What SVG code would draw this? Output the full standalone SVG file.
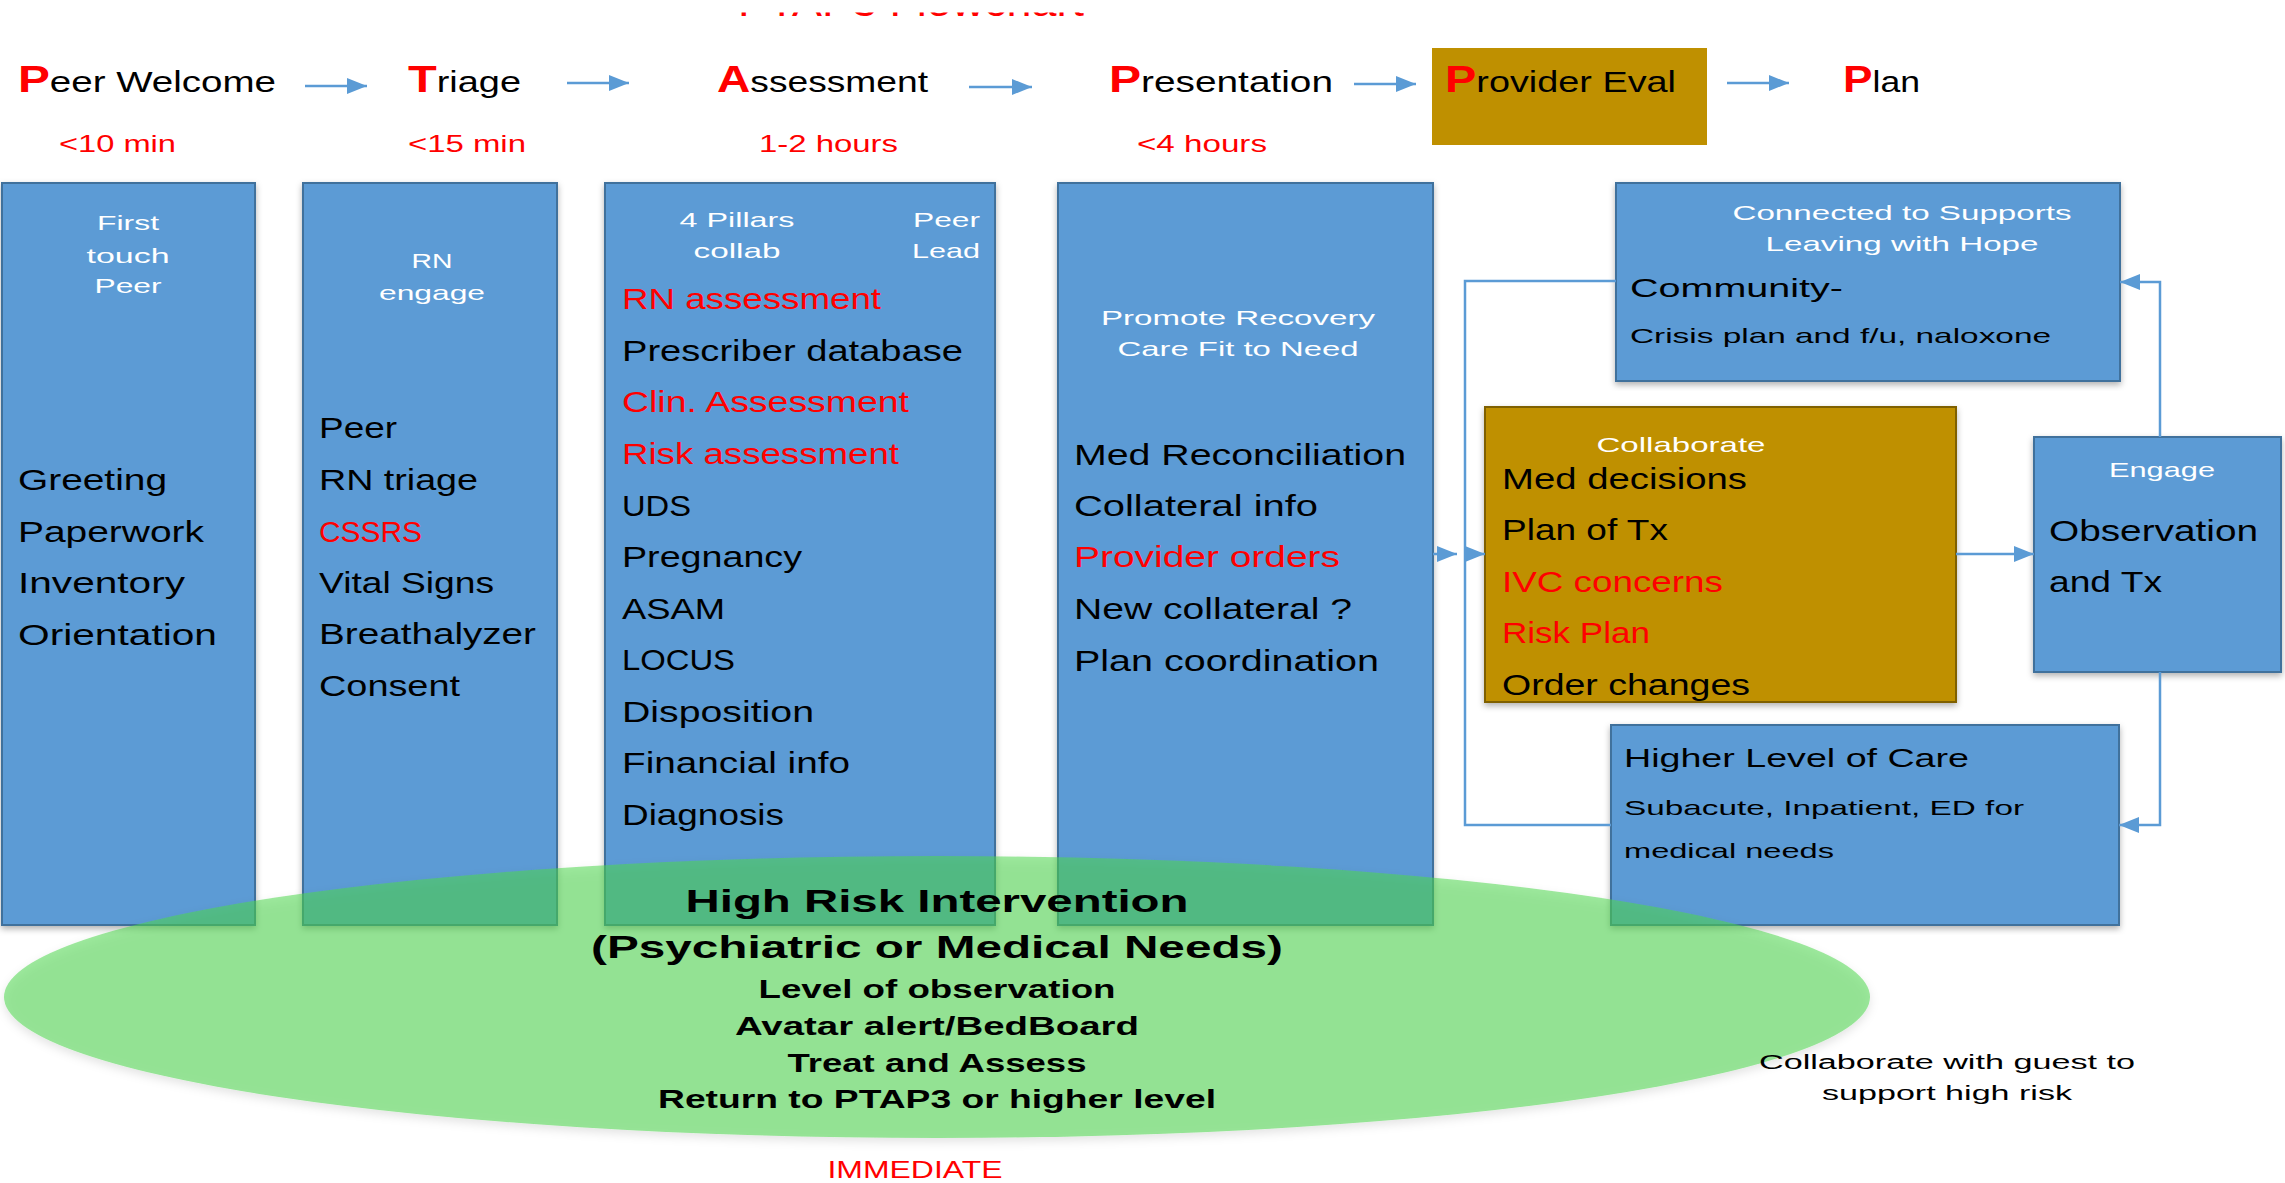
<svg xmlns="http://www.w3.org/2000/svg" width="2285" height="1183" viewBox="0 0 2285 1183">
<style>
text{font-family:"Liberation Sans",Arial,sans-serif;fill:#000}
.box{fill:#5b9bd5;stroke:#41719c;stroke-width:2;filter:url(#sh)}
.gold{fill:#bf9000}
.goldb{fill:#bf9000;stroke:#7f6000;stroke-width:2;filter:url(#sh)}
.hd{font-size:29px}
.P{font-size:36px;font-weight:bold;fill:#f00}
.tm{font-size:24px;fill:#f00}
.w{font-size:21px;fill:#fff}
.i{font-size:29px}
.r{fill:#f00}
.conn{stroke:#5b9bd5;stroke-width:2.5;fill:none}
.arr{marker-end:url(#ah)}
.eb{font-weight:bold;font-size:31px}
.es{font-weight:bold;font-size:25px}
.sm{font-size:21px}
</style>
<defs>
<marker id="ah" markerUnits="userSpaceOnUse" markerWidth="22" markerHeight="18" refX="20" refY="8" orient="auto"><path d="M0,0 L20,8 L0,16 z" fill="#5b9bd5"/></marker>
<filter id="sh" x="-5%" y="-5%" width="110%" height="110%"><feDropShadow dx="0" dy="3" stdDeviation="3" flood-color="#000" flood-opacity="0.3"/></filter>
<filter id="esh" x="-5%" y="-10%" width="110%" height="125%"><feDropShadow dx="0" dy="4" stdDeviation="5" flood-color="#000" flood-opacity="0.2"/></filter>
<clipPath id="tclip"><rect x="0" y="12.5" width="2285" height="4"/></clipPath>
</defs>
<rect width="2285" height="1183" fill="#fff"/>

<g id="title" clip-path="url(#tclip)">
<text x="738" y="15.5" font-size="40" textLength="346" lengthAdjust="spacingAndGlyphs" style="fill:#f00">PTAP3 Flowchart</text>
</g>

<g id="header">
<text class="hd" x="18" y="92" textLength="258" lengthAdjust="spacingAndGlyphs"><tspan class="P">P</tspan>eer Welcome</text>
<text class="hd" x="408" y="92" textLength="113" lengthAdjust="spacingAndGlyphs"><tspan class="P">T</tspan>riage</text>
<text class="hd" x="717" y="92" textLength="211" lengthAdjust="spacingAndGlyphs"><tspan class="P">A</tspan>ssessment</text>
<text class="hd" x="1109" y="92" textLength="224" lengthAdjust="spacingAndGlyphs"><tspan class="P">P</tspan>resentation</text>
<text class="hd" x="1843" y="92" textLength="77" lengthAdjust="spacingAndGlyphs"><tspan class="P">P</tspan>lan</text>
<text class="tm" x="59" y="152" textLength="117" lengthAdjust="spacingAndGlyphs">&lt;10 min</text>
<text class="tm" x="408" y="152" textLength="118" lengthAdjust="spacingAndGlyphs">&lt;15 min</text>
<text class="tm" x="759" y="152" textLength="139" lengthAdjust="spacingAndGlyphs">1-2 hours</text>
<text class="tm" x="1137" y="152" textLength="130" lengthAdjust="spacingAndGlyphs">&lt;4 hours</text>
</g>

<g id="provider-eval">
<rect class="gold" x="1432" y="48" width="275" height="97"/>
<text class="hd" x="1445" y="92" textLength="231" lengthAdjust="spacingAndGlyphs"><tspan class="P">P</tspan>rovider Eval</text>
</g>

<g id="peer-welcome">
<rect class="box" x="2" y="183" width="253" height="742"/>
<text class="w" x="128" y="230" text-anchor="middle" textLength="62" lengthAdjust="spacingAndGlyphs">First</text>
<text class="w" x="128" y="263" text-anchor="middle" textLength="83" lengthAdjust="spacingAndGlyphs">touch</text>
<text class="w" x="128" y="293" text-anchor="middle" textLength="67" lengthAdjust="spacingAndGlyphs">Peer</text>
<text class="i" x="18" y="490" textLength="149" lengthAdjust="spacingAndGlyphs">Greeting</text>
<text class="i" x="18" y="542" textLength="186" lengthAdjust="spacingAndGlyphs">Paperwork</text>
<text class="i" x="18" y="593" textLength="167" lengthAdjust="spacingAndGlyphs">Inventory</text>
<text class="i" x="18" y="645" textLength="199" lengthAdjust="spacingAndGlyphs">Orientation</text>
</g>

<g id="triage">
<rect class="box" x="303" y="183" width="254" height="742"/>
<text class="w" x="432" y="268" text-anchor="middle" textLength="41" lengthAdjust="spacingAndGlyphs">RN</text>
<text class="w" x="432" y="300" text-anchor="middle" textLength="106" lengthAdjust="spacingAndGlyphs">engage</text>
<text class="i" x="319" y="438" textLength="78" lengthAdjust="spacingAndGlyphs">Peer</text>
<text class="i" x="319" y="490" textLength="159" lengthAdjust="spacingAndGlyphs">RN triage</text>
<text class="i r" x="319" y="542" textLength="103" lengthAdjust="spacingAndGlyphs">CSSRS</text>
<text class="i" x="319" y="593" textLength="175" lengthAdjust="spacingAndGlyphs">Vital Signs</text>
<text class="i" x="319" y="644" textLength="217" lengthAdjust="spacingAndGlyphs">Breathalyzer</text>
<text class="i" x="319" y="696" textLength="141" lengthAdjust="spacingAndGlyphs">Consent</text>
</g>

<g id="assessment">
<rect class="box" x="605" y="183" width="390" height="742"/>
<text class="w" x="737" y="227" text-anchor="middle" textLength="115" lengthAdjust="spacingAndGlyphs">4 Pillars</text>
<text class="w" x="737" y="258" text-anchor="middle" textLength="87" lengthAdjust="spacingAndGlyphs">collab</text>
<text class="w" x="980" y="227" text-anchor="end" textLength="67" lengthAdjust="spacingAndGlyphs">Peer</text>
<text class="w" x="980" y="258" text-anchor="end" textLength="68" lengthAdjust="spacingAndGlyphs">Lead</text>
<text class="i r" x="622" y="309" textLength="259" lengthAdjust="spacingAndGlyphs">RN assessment</text>
<text class="i" x="622" y="361" textLength="341" lengthAdjust="spacingAndGlyphs">Prescriber database</text>
<text class="i r" x="622" y="412" textLength="287" lengthAdjust="spacingAndGlyphs">Clin. Assessment</text>
<text class="i r" x="622" y="464" textLength="277" lengthAdjust="spacingAndGlyphs">Risk assessment</text>
<text class="i" x="622" y="516" textLength="69" lengthAdjust="spacingAndGlyphs">UDS</text>
<text class="i" x="622" y="567" textLength="180" lengthAdjust="spacingAndGlyphs">Pregnancy</text>
<text class="i" x="622" y="619" textLength="103" lengthAdjust="spacingAndGlyphs">ASAM</text>
<text class="i" x="622" y="670" textLength="113" lengthAdjust="spacingAndGlyphs">LOCUS</text>
<text class="i" x="622" y="722" textLength="192" lengthAdjust="spacingAndGlyphs">Disposition</text>
<text class="i" x="622" y="773" textLength="228" lengthAdjust="spacingAndGlyphs">Financial info</text>
<text class="i" x="622" y="825" textLength="162" lengthAdjust="spacingAndGlyphs">Diagnosis</text>
</g>

<g id="presentation">
<rect class="box" x="1058" y="183" width="375" height="742"/>
<text class="w" x="1238" y="325" text-anchor="middle" textLength="274" lengthAdjust="spacingAndGlyphs">Promote Recovery</text>
<text class="w" x="1238" y="356" text-anchor="middle" textLength="241" lengthAdjust="spacingAndGlyphs">Care Fit to Need</text>
<text class="i" x="1074" y="465" textLength="332" lengthAdjust="spacingAndGlyphs">Med Reconciliation</text>
<text class="i" x="1074" y="516" textLength="244" lengthAdjust="spacingAndGlyphs">Collateral info</text>
<text class="i r" x="1074" y="567" textLength="266" lengthAdjust="spacingAndGlyphs">Provider orders</text>
<text class="i" x="1074" y="619" textLength="278" lengthAdjust="spacingAndGlyphs">New collateral ?</text>
<text class="i" x="1074" y="671" textLength="305" lengthAdjust="spacingAndGlyphs">Plan coordination</text>
</g>

<g id="community">
<rect class="box" x="1616" y="183" width="504" height="198"/>
<text class="w" x="1902" y="220" text-anchor="middle" textLength="339" lengthAdjust="spacingAndGlyphs">Connected to Supports</text>
<text class="w" x="1902" y="251" text-anchor="middle" textLength="273" lengthAdjust="spacingAndGlyphs">Leaving with Hope</text>
<text x="1630" y="297" font-size="26" textLength="213" lengthAdjust="spacingAndGlyphs">Community-</text>
<text class="sm" x="1630" y="343" textLength="421" lengthAdjust="spacingAndGlyphs">Crisis plan and f/u, naloxone</text>
</g>

<g id="collaborate">
<rect class="goldb" x="1485" y="407" width="471" height="295"/>
<text class="w" x="1681" y="452" text-anchor="middle" textLength="169" lengthAdjust="spacingAndGlyphs">Collaborate</text>
<text class="i" x="1502" y="489" textLength="245" lengthAdjust="spacingAndGlyphs">Med decisions</text>
<text class="i" x="1502" y="540" textLength="166" lengthAdjust="spacingAndGlyphs">Plan of Tx</text>
<text class="i r" x="1502" y="592" textLength="221" lengthAdjust="spacingAndGlyphs">IVC concerns</text>
<text class="i r" x="1502" y="643" textLength="148" lengthAdjust="spacingAndGlyphs">Risk Plan</text>
<text class="i" x="1502" y="695" textLength="248" lengthAdjust="spacingAndGlyphs">Order changes</text>
</g>

<g id="engage">
<rect class="box" x="2034" y="437" width="247" height="235"/>
<text class="w" x="2162" y="477" text-anchor="middle" textLength="106" lengthAdjust="spacingAndGlyphs">Engage</text>
<text class="i" x="2049" y="541" textLength="209" lengthAdjust="spacingAndGlyphs">Observation</text>
<text class="i" x="2049" y="592" textLength="113" lengthAdjust="spacingAndGlyphs">and Tx</text>
</g>

<g id="higher-level">
<rect class="box" x="1611" y="725" width="508" height="200"/>
<text x="1624" y="767" font-size="25" textLength="345" lengthAdjust="spacingAndGlyphs">Higher Level of Care</text>
<text class="sm" x="1624" y="815" textLength="400" lengthAdjust="spacingAndGlyphs">Subacute, Inpatient, ED for</text>
<text class="sm" x="1624" y="858" textLength="210" lengthAdjust="spacingAndGlyphs">medical needs</text>
</g>

<g id="connectors">
<path class="conn arr" d="M305,86 H367"/>
<path class="conn arr" d="M567,83 H629"/>
<path class="conn arr" d="M969,87 H1032"/>
<path class="conn arr" d="M1354,84 H1416"/>
<path class="conn arr" d="M1727,83 H1789"/>
<path class="conn" d="M1616,281 H1465 V825 H1611"/>
<path class="conn arr" d="M1433,554 H1457"/>
<path class="conn arr" d="M1465,554 H1485"/>
<path class="conn arr" d="M1956,554 H2034"/>
<path class="conn arr" d="M2160,437 V282 H2120"/>
<path class="conn arr" d="M2160,672 V825 H2119"/>
</g>

<g id="high-risk">
<ellipse cx="937" cy="997" rx="933" ry="141" fill="#4cd64c" fill-opacity="0.54" filter="url(#esh)"/>
<text class="eb" x="937" y="912" text-anchor="middle" textLength="503" lengthAdjust="spacingAndGlyphs">High Risk Intervention</text>
<text class="eb" x="937" y="958" text-anchor="middle" textLength="692" lengthAdjust="spacingAndGlyphs">(Psychiatric or Medical Needs)</text>
<text class="es" x="937" y="998" text-anchor="middle" textLength="357" lengthAdjust="spacingAndGlyphs">Level of observation</text>
<text class="es" x="937" y="1035" text-anchor="middle" textLength="404" lengthAdjust="spacingAndGlyphs">Avatar alert/BedBoard</text>
<text class="es" x="937" y="1072" text-anchor="middle" textLength="299" lengthAdjust="spacingAndGlyphs">Treat and Assess</text>
<text class="es" x="937" y="1108" text-anchor="middle" textLength="558" lengthAdjust="spacingAndGlyphs">Return to PTAP3 or higher level</text>
</g>

<g id="notes">
<text x="1947" y="1069" font-size="20" text-anchor="middle" textLength="376" lengthAdjust="spacingAndGlyphs">Collaborate with guest to</text>
<text x="1947" y="1100" font-size="20" text-anchor="middle" textLength="250" lengthAdjust="spacingAndGlyphs">support high risk</text>
<text x="915" y="1178" font-size="23" text-anchor="middle" textLength="175" lengthAdjust="spacingAndGlyphs" style="fill:#f00">IMMEDIATE</text>
</g>
</svg>
